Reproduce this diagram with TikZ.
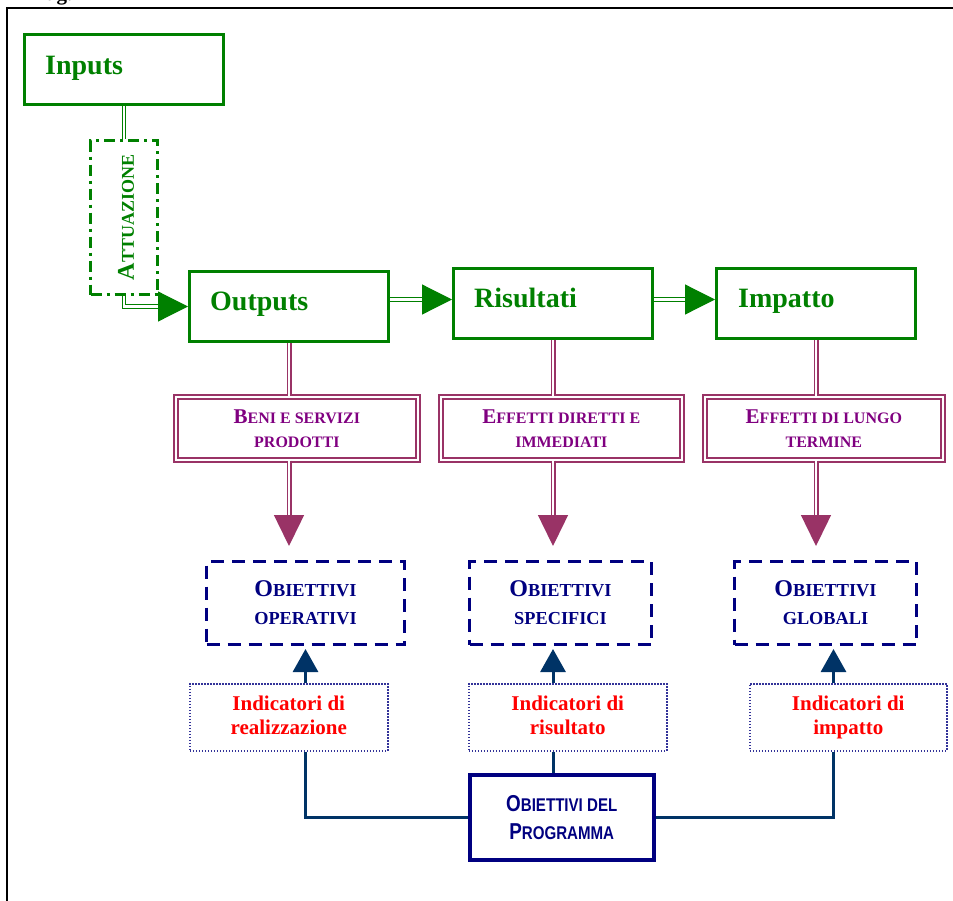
\documentclass[tikz,border=0pt]{standalone}
\usepackage{fontspec}
\setmainfont{Liberation Serif}
\newfontfamily\narrowsans[FakeStretch=0.82]{Liberation Sans}
\usetikzlibrary{arrows.meta}

\definecolor{lfgreen}{RGB}{0,128,0}
\definecolor{lfplum}{RGB}{153,51,102}
\definecolor{lfpurple}{RGB}{128,0,128}
\definecolor{lfnavy}{RGB}{0,0,128}
\definecolor{lfdeep}{RGB}{0,51,102}
\definecolor{lfdot}{RGB}{51,51,153}
\definecolor{lfred}{RGB}{255,0,0}

% small capitals built from a large initial and smaller capitals
\newcommand\scw[4]{{\fontsize{#1}{#1}\selectfont #3}{\fontsize{#2}{#2}\selectfont #4}}

\begin{document}
\begin{tikzpicture}[x=1pt,y=-1pt,
  stagebox/.style={draw=lfgreen, line width=3pt, anchor=north west, inner sep=0pt,
    minimum width=199pt, minimum height=70pt},
  stagelabel/.style={anchor=base west, text=lfgreen, inner sep=0pt,
    font=\bfseries\fontsize{28}{30}\selectfont},
  actbox/.style={draw=lfgreen, line width=3pt, anchor=north west, inner sep=0pt,
    dash pattern=on 11pt off 5pt on 3pt off 5pt,
    minimum width=67pt, minimum height=154pt},
  gline/.style={draw=lfgreen, double=white, double distance=2.4pt, line width=1.2pt},
  garrow/.style={-{Triangle[width=30pt,length=30pt]}},
  effectbox/.style={draw=lfplum, double=white, double distance=2.6pt, line width=1.7pt,
    anchor=north west, inner sep=0pt, minimum height=63pt, align=center,
    text=lfpurple, font=\bfseries\fontsize{21}{24}\selectfont},
  pline/.style={draw=lfplum, double=white, double distance=2.2pt, line width=1.4pt},
  parrow/.style={-{Triangle[width=30pt,length=31pt]}, shorten >=14pt},
  goalbox/.style={draw=lfnavy, line width=3pt, dash pattern=on 13pt off 8pt,
    anchor=north west, inner sep=0pt, minimum height=83pt, align=center,
    text=lfnavy, font=\bfseries\fontsize{24}{28}\selectfont},
  indbox/.style={draw=lfdot, line width=1.5pt, dash pattern=on 1.5pt off 1.5pt,
    anchor=north west, inner sep=0pt, minimum height=67pt, align=center,
    text=lfred, font=\bfseries\fontsize{21}{24}\selectfont},
  progbox/.style={draw=lfnavy, line width=3.5pt, anchor=north west, inner sep=0pt,
    minimum width=184pt, minimum height=85pt, align=center, text=lfnavy,
    font=\narrowsans\bfseries\fontsize{23}{28}\selectfont},
  navl/.style={draw=lfdeep, line width=3pt},
  narrow/.style={navl, -{Triangle[width=25pt,length=23pt]}, shorten >=3pt}
]
\useasboundingbox (0,0) rectangle (953,900);
\clip (0,0) rectangle (953,900);

% caption fragment and page frame
\node[anchor=base west, inner sep=0pt, font=\bfseries\fontsize{21}{21}\selectfont] (figtag) at (46,0) {ag.};
\draw[line width=2pt] (7,902) -- (7,8) -- (955,8);

% chain of stages
\node[stagebox] (inputs) at (23,33) {};
\node[stagelabel] (inputsL) at (45,74) {Inputs};
\node[stagebox] (outputs) at (188,270) {};
\node[stagelabel] (outputsL) at (210,310) {Outputs};
\node[stagebox] (risultati) at (452,267) {};
\node[stagelabel] (risultatiL) at (474,307) {Risultati};
\node[stagebox] (impatto) at (715,267) {};
\node[stagelabel] (impattoL) at (738,307) {Impatto};

% implementation step
\node[actbox] (attu) at (89,139) {};
\node[rotate=90, text=lfgreen, font=\bfseries, inner sep=0pt] (attuL) at ([xshift=2pt]attu.center)
  {\scw{24}{18}{A}{TTUAZIONE}};

\draw[gline] (inputs.south) -- (attu.north);
\draw[gline, garrow] (attu.south) |- (outputs.west);
\coordinate (rw) at ([yshift=4pt]risultati.west);
\coordinate (iw) at ([yshift=4pt]impatto.west);
\draw[gline, garrow] (outputs.east |- rw) -- (rw);
\draw[gline, garrow] (risultati.east |- iw) -- (iw);

% effects
\node[effectbox, minimum width=242pt] (e1) at (175,396)
  {\scw{21}{16}{B}{ENI E SERVIZI}\\\scw{21}{16}{}{PRODOTTI}};
\node[effectbox, minimum width=241pt] (e2) at (440,396)
  {\scw{21}{16}{E}{FFETTI DIRETTI E}\\\scw{21}{16}{}{IMMEDIATI}};
\node[effectbox, minimum width=238pt] (e3) at (704,396)
  {\scw{21}{16}{E}{FFETTI DI LUNGO}\\\scw{21}{16}{}{TERMINE}};

% objectives
\node[goalbox, minimum width=198pt] (ob1) at (205,560)
  {\scw{24}{18.3}{O}{BIETTIVI}\\\scw{24}{18.3}{}{OPERATIVI}};
\node[goalbox, minimum width=182pt] (ob2) at (468,560)
  {\scw{24}{18.3}{O}{BIETTIVI}\\\scw{24}{18.3}{}{SPECIFICI}};
\node[goalbox, minimum width=182pt] (ob3) at (733,560)
  {\scw{24}{18.3}{O}{BIETTIVI}\\\scw{24}{18.3}{}{GLOBALI}};

\draw[pline] (outputs.south) -- (outputs.south |- e1.north);
\draw[pline] (risultati.south) -- (risultati.south |- e2.north);
\draw[pline] (impatto.south) -- (impatto.south |- e3.north);
\draw[pline, parrow] (outputs.south |- e1.south) -- (outputs.south |- ob1.north);
\draw[pline, parrow] (risultati.south |- e2.south) -- (risultati.south |- ob2.north);
\draw[pline, parrow] (impatto.south |- e3.south) -- (impatto.south |- ob3.north);

% indicators
\node[indbox, minimum width=198pt] (ind1) at (189,683) {\strut Indicatori di\\\strut realizzazione};
\node[indbox, minimum width=198pt] (ind2) at (468,683) {\strut Indicatori di\\\strut risultato};
\node[indbox, minimum width=197pt] (ind3) at (749,683) {\strut Indicatori di\\\strut impatto};

% programme objectives
\node[progbox] (prog) at (468,773)
  {\scw{23}{18.4}{O}{BIETTIVI DEL}\\\scw{23}{18.4}{P}{ROGRAMMA}};

\coordinate (g3) at ([xshift=8pt]ob3.south);
\draw[narrow] (ob1.south |- ind1.north) -- (ob1.south);
\draw[narrow] (risultati.south |- ind2.north) -- (risultati.south |- ob2.south);
\draw[narrow] (g3 |- ind3.north) -- (g3);

\draw[navl] (ob1.south |- ind1.south) |- (prog.west);
\draw[navl] (risultati.south |- ind2.south) -- (risultati.south |- prog.north);
\draw[navl] (prog.east) -| (g3 |- ind3.south);
\end{tikzpicture}
\end{document}
